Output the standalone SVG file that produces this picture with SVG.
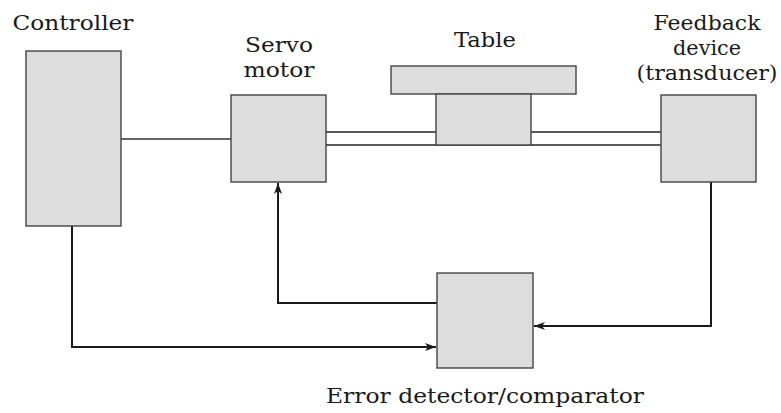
<svg xmlns="http://www.w3.org/2000/svg" width="781" height="413" viewBox="0 0 781 413">
<style>
.box{fill:#dddddd;stroke:#444;stroke-width:1.4}
.ln{fill:none;stroke:#1a1a1a;stroke-width:2}
.shaft{fill:none;stroke:#222;stroke-width:1.3}
.t{font-family:'DejaVu Serif',serif;font-size:21px;fill:#1a1a1a;text-anchor:middle}
</style>
<defs>
<marker id="ah" markerWidth="12" markerHeight="8" refX="11" refY="4" orient="auto" markerUnits="userSpaceOnUse">
<path d="M0,0 L11,4 L0,8 L3,4 Z" fill="#1a1a1a"/>
</marker>
</defs>
<rect width="781" height="413" fill="#fff"/>
<g id="connectors">
<line class="ln" x1="121" y1="139" x2="231" y2="139" style="stroke-width:1.4;stroke:#333"/>
<polyline class="ln" points="72,226 72,347 436,347" marker-end="url(#ah)"/>
<polyline class="ln" points="711,182 711,326 534,326" marker-end="url(#ah)"/>
<polyline class="ln" points="437,303 278,303 278,183" marker-end="url(#ah)"/>
</g>
<g id="shaft">
<rect x="326" y="132" width="335" height="13" fill="#fff" stroke="none"/>
<line class="shaft" x1="326" y1="132" x2="661" y2="132"/>
<line class="shaft" x1="326" y1="145" x2="661" y2="145"/>
</g>
<g id="controller">
<rect class="box" x="26" y="51" width="95" height="175"/>
<text class="t" x="73" y="30" textLength="121" lengthAdjust="spacingAndGlyphs">Controller</text>
</g>
<g id="servo">
<rect class="box" x="231" y="95" width="95" height="87"/>
<text class="t" x="279" y="52" textLength="68" lengthAdjust="spacingAndGlyphs">Servo</text>
<text class="t" x="279" y="77" textLength="71" lengthAdjust="spacingAndGlyphs">motor</text>
</g>
<g id="table">
<rect class="box" x="391" y="66" width="185" height="28"/>
<rect class="box" x="436" y="94" width="95" height="51"/>
<text class="t" x="485" y="47" textLength="62" lengthAdjust="spacingAndGlyphs">Table</text>
</g>
<g id="feedback">
<rect class="box" x="661" y="95" width="95" height="87"/>
<text class="t" x="707" y="30" textLength="107" lengthAdjust="spacingAndGlyphs">Feedback</text>
<text class="t" x="707" y="55" textLength="68" lengthAdjust="spacingAndGlyphs">device</text>
<text class="t" x="707" y="80" textLength="141" lengthAdjust="spacingAndGlyphs">(transducer)</text>
</g>
<g id="error">
<rect class="box" x="437" y="273" width="96" height="95"/>
<text class="t" x="485" y="403" textLength="318" lengthAdjust="spacingAndGlyphs">Error detector/comparator</text>
</g>
</svg>
